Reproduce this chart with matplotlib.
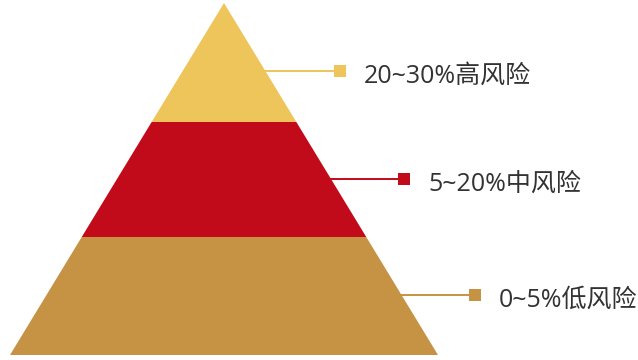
import matplotlib

matplotlib.use("Agg")

import matplotlib.pyplot as plt
from matplotlib.patches import Polygon

plt.rcParams["font.family"] = ["Open Sans", "Noto Sans CJK SC", "DejaVu Sans"]

# pyramid tiers, top to bottom
labels = ["20~30%高风险", "5~20%中风险", "0~5%低风险"]
colors = ["#EDC55B", "#C10A1A", "#C59343"]
tier_heights = [119, 115, 118]

# pixel-space layout
APEX_X, APEX_Y = 224, 3
BASE_HALF = 214
LEADER_Y = [70.5, 178.5, 294.5]
MARKER_X = [340, 404, 474.5]
TEXT_DX = 24
TEXT_DY = 5.5

fig = plt.figure(figsize=(6.38, 3.6), dpi=100)
ax = fig.add_axes([0, 0, 1, 1])
ax.set_xlim(0, 638)
ax.set_ylim(360, 0)
ax.axis("off")

total = sum(tier_heights)


def half_width(y):
    return BASE_HALF * (y - APEX_Y) / total


top = APEX_Y
for label, color, h, ly, mx in zip(labels, colors, tier_heights, LEADER_Y, MARKER_X):
    bottom = top + h
    pts = [
        (APEX_X - half_width(top), top),
        (APEX_X + half_width(top), top),
        (APEX_X + half_width(bottom), bottom),
        (APEX_X - half_width(bottom), bottom),
    ]
    ax.add_patch(Polygon(pts, closed=True, facecolor=color, edgecolor="none"))

    edge_x = APEX_X + half_width(ly) - 3
    ax.plot([edge_x, mx], [ly, ly], color=color, linewidth=1.4, solid_capstyle="butt")
    ax.plot([mx], [ly], marker="s", markersize=8, color=color, markeredgewidth=0)
    ax.text(mx + TEXT_DX, ly + TEXT_DY, label, fontsize=18, color="#333333",
            ha="left", va="center")
    top = bottom

fig.savefig("out.png", dpi=100)
